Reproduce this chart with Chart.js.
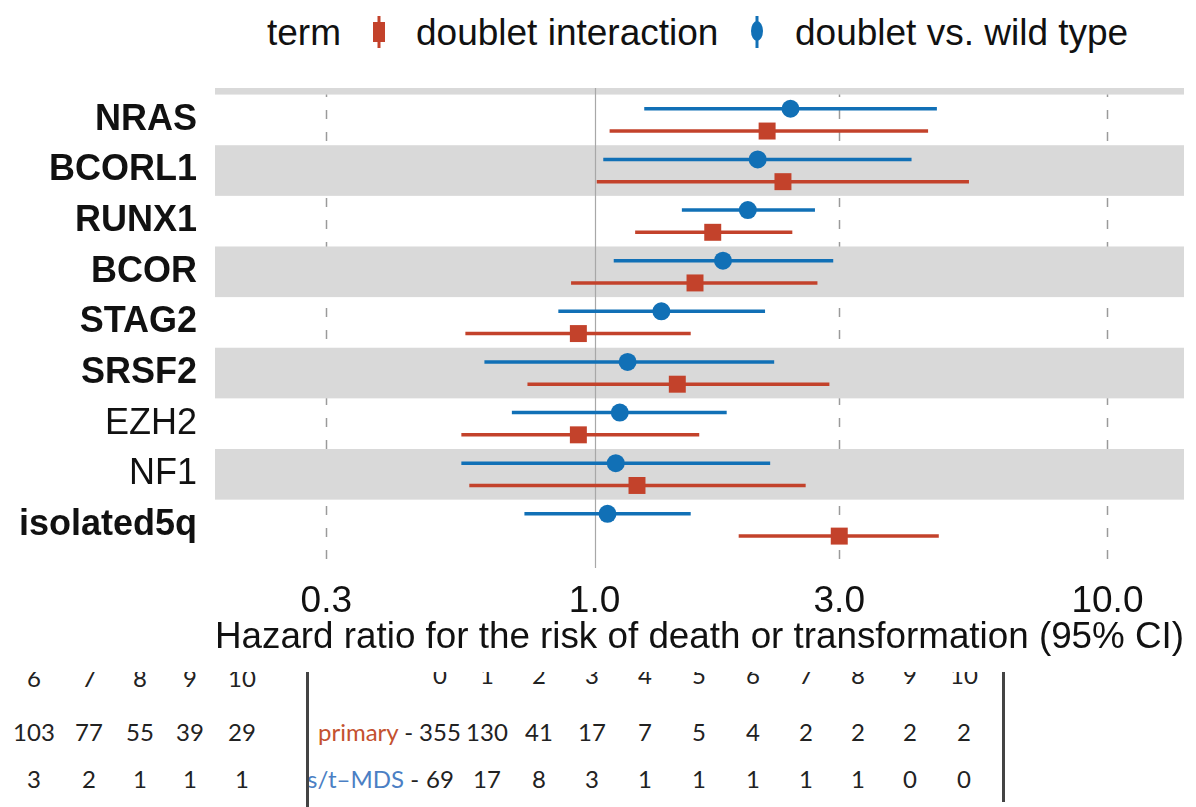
<!DOCTYPE html>
<html>
<head>
<meta charset="utf-8">
<script src="https://cdn.jsdelivr.net/npm/chart.js@4.4.1/dist/chart.umd.min.js"></script>
<style>
  body { margin: 0; background: #fff; width: 1196px; height: 807px; overflow: hidden; position: relative; font-family: "Liberation Sans", Arial, sans-serif; }
  #wrap { position: absolute; left: 0; top: 0; width: 1196px; height: 660px; }
  .leg { position: absolute; top: 11px; font-size: 37px; line-height: 44px; color: #111; white-space: nowrap; }
  .glyph { position: absolute; top: 14px; }
  .tbl { position: absolute; font-family: Lato, "Open Sans", sans-serif; font-size: 24px; color: #222; white-space: nowrap; }
  .cell { position: absolute; transform: translate(-50%, -50%); }
  .rlab { position: absolute; transform: translateY(-50%); text-align: right; }
  .clip { position: absolute; left: 0; top: 672px; width: 1196px; height: 30px; overflow: hidden; }
  .vline { position: absolute; width: 3px; background: #444; }
</style>
</head>
<body>
<div class="leg" style="left:267px">term</div>
<svg class="glyph" style="left:371px" width="16" height="36"><line x1="8" y1="2" x2="8" y2="34" stroke="#c3422b" stroke-width="3"/><rect x="2" y="8" width="12" height="20" fill="#c3422b"/></svg>
<div class="leg" style="left:416px">doublet interaction</div>
<svg class="glyph" style="left:749px" width="16" height="36"><line x1="8" y1="2" x2="8" y2="34" stroke="#1170b6" stroke-width="3"/><ellipse cx="8" cy="17" rx="6" ry="10" fill="#1170b6"/></svg>
<div class="leg" style="left:795px">doublet vs. wild type</div>

<div id="wrap"><canvas id="forest" width="1196" height="660"></canvas></div>

<div id="tables"></div>

<script>
// forest plot data (hazard ratios with 95% CI)
var genes = ['NRAS', 'BCORL1', 'RUNX1', 'BCOR', 'STAG2', 'SRSF2', 'EZH2', 'NF1', 'isolated5q'];
var plainGenes = ['EZH2', 'NF1'];

var vsWildHR = [2.41, 2.08, 1.99, 1.78, 1.35, 1.16, 1.12, 1.10, 1.06];
var vsWildLo = [1.25, 1.04, 1.48, 1.09, 0.85, 0.61, 0.69, 0.55, 0.73];
var vsWildHi = [4.65, 4.15, 2.69, 2.92, 2.15, 2.24, 1.81, 2.20, 1.54];

var interHR = [2.17, 2.33, 1.70, 1.57, 0.93, 1.45, 0.93, 1.21, 3.00];
var interLo = [1.07, 1.01, 1.20, 0.90, 0.56, 0.74, 0.55, 0.57, 1.91];
var interHi = [4.47, 5.37, 2.43, 2.72, 1.54, 2.87, 1.60, 2.58, 4.69];

var xTicks = [0.3, 1, 3, 10];

// risk table fragments underneath
var leftTimes = [6, 7, 8, 9, 10];
var leftRowA = [103, 77, 55, 39, 29];
var leftRowB = [3, 2, 1, 1, 1];
var riskTimes = [0, 1, 2, 3, 4, 5, 6, 7, 8, 9, 10];
var riskPrimary = [355, 130, 41, 17, 7, 5, 4, 2, 2, 2, 2];
var riskTMDS = [69, 17, 8, 3, 1, 1, 1, 1, 1, 0, 0];

var RED = '#c3422b';
var BLUE = '#1170b6';
var OFFSET = 0.22;

function rows(hr, lo, hi, shift) {
  return hr.map(function (v, i) { return { x: v, y: i + shift, lo: lo[i], hi: hi[i] }; });
}

var forestPlugin = {
  id: 'forest',
  beforeDatasetsDraw: function (chart) {
    var ctx = chart.ctx, a = chart.chartArea, x = chart.scales.x, y = chart.scales.y;
    ctx.save();
    ctx.beginPath();
    ctx.rect(a.left, a.top, a.right - a.left, a.bottom - a.top);
    ctx.clip();

    // dashed grid
    ctx.strokeStyle = '#9a9a9a';
    ctx.lineWidth = 1.5;
    ctx.setLineDash([9, 13]);
    xTicks.forEach(function (v) {
      if (v === 1) return;
      var px = Math.round(x.getPixelForValue(v)) + 0.5;
      ctx.beginPath(); ctx.moveTo(px, a.top); ctx.lineTo(px, a.bottom); ctx.stroke();
    });
    ctx.setLineDash([]);

    // shaded bands
    ctx.fillStyle = '#d9d9d9';
    for (var i = -1; i < genes.length - 1; i += 2) {
      var t = y.getPixelForValue(i - 0.5), b = y.getPixelForValue(i + 0.5);
      ctx.fillRect(a.left, Math.min(t, b), a.right - a.left, Math.abs(b - t));
    }

    // reference line at 1
    var p1 = Math.round(x.getPixelForValue(1)) + 0.5;
    ctx.strokeStyle = '#a8a8a8';
    ctx.lineWidth = 1.2;
    ctx.beginPath(); ctx.moveTo(p1, a.top); ctx.lineTo(p1, a.bottom); ctx.stroke();

    // CI whiskers
    ctx.lineWidth = 3.5;
    chart.data.datasets.forEach(function (ds) {
      ctx.strokeStyle = ds.borderColor;
      ds.data.forEach(function (p) {
        var py = y.getPixelForValue(p.y);
        ctx.beginPath();
        ctx.moveTo(x.getPixelForValue(p.lo), py);
        ctx.lineTo(x.getPixelForValue(p.hi), py);
        ctx.stroke();
      });
    });
    ctx.restore();
  }
};

new Chart(document.getElementById('forest'), {
  type: 'scatter',
  data: {
    datasets: [
      {
        label: 'doublet vs. wild type',
        data: rows(vsWildHR, vsWildLo, vsWildHi, -OFFSET),
        backgroundColor: BLUE, borderColor: BLUE,
        pointStyle: 'circle', pointRadius: 9, borderWidth: 0
      },
      {
        label: 'doublet interaction',
        data: rows(interHR, interLo, interHi, OFFSET),
        backgroundColor: RED, borderColor: RED,
        pointStyle: 'rect', pointRadius: 12, borderWidth: 0
      }
    ]
  },
  options: {
    responsive: false,
    animation: false,
    layout: { padding: { top: 88, right: 10, bottom: 0, left: 0 } },
    plugins: { legend: { display: false }, tooltip: { enabled: false } },
    scales: {
      x: {
        type: 'logarithmic',
        min: 0.182,
        max: 14.1,
        afterBuildTicks: function (scale) { scale.ticks = xTicks.map(function (v) { return { value: v }; }); },
        afterFit: function (scale) { scale.height = 92; },
        ticks: {
          color: '#111',
          padding: 12,
          maxRotation: 0,
          autoSkip: false,
          font: { family: 'Liberation Sans', size: 37 },
          callback: function (v) { return Number(v).toFixed(1); }
        },
        grid: { display: false, drawTicks: false },
        border: { display: false },
        title: {
          display: true,
          text: 'Hazard ratio for the risk of death or transformation (95% CI)',
          color: '#111',
          font: { family: 'Liberation Sans', size: 37.8 },
          padding: { top: 0, bottom: 0 }
        }
      },
      y: {
        type: 'linear',
        reverse: true,
        min: -0.63,
        max: 8.85,
        afterBuildTicks: function (scale) { scale.ticks = genes.map(function (g, i) { return { value: i }; }); },
        afterFit: function (scale) { scale.width = 215; },
        ticks: {
          color: '#111',
          padding: 18,
          autoSkip: false,
          font: function (c) {
            var g = genes[c.tick ? c.tick.value : 0];
            return { family: 'Liberation Sans', size: 36, weight: plainGenes.indexOf(g) >= 0 ? 'normal' : 'bold' };
          },
          callback: function (v) { return genes[v]; }
        },
        grid: { display: false, drawTicks: false },
        border: { display: false }
      }
    }
  },
  plugins: [forestPlugin]
});

// bottom risk tables
var tables = document.getElementById('tables');
function cell(parent, text, cx, cy, color) {
  var s = document.createElement('span');
  s.className = 'cell';
  s.textContent = text;
  s.style.left = cx + 'px';
  s.style.top = cy + 'px';
  if (color) s.style.color = color;
  parent.appendChild(s);
}
var leftX = [34, 89, 140, 190, 242];
var rightX = [440, 487, 539, 592, 645, 699, 753, 806, 858, 910, 964];

var clip = document.createElement('div');
clip.className = 'clip tbl';
tables.appendChild(clip);
leftTimes.forEach(function (t, i) { cell(clip, t, leftX[i], 5); });
riskTimes.forEach(function (t, i) { cell(clip, t, rightX[i], 2); });

var body = document.createElement('div');
body.className = 'tbl';
body.style.left = '0px'; body.style.top = '0px';
tables.appendChild(body);
leftRowA.forEach(function (v, i) { cell(body, v, leftX[i], 731); });
leftRowB.forEach(function (v, i) { cell(body, v, leftX[i], 778); });
riskPrimary.forEach(function (v, i) { cell(body, v, rightX[i], 731); });
riskTMDS.forEach(function (v, i) { cell(body, v, rightX[i], 778); });

var lab1 = document.createElement('span');
lab1.className = 'rlab';
lab1.innerHTML = '<span style="color:#c4512f">primary</span>&nbsp;-';
lab1.style.left = '318px'; lab1.style.top = '731px';
body.appendChild(lab1);
var lab2 = document.createElement('span');
lab2.className = 'rlab';
lab2.innerHTML = '<span style="color:#4b7fc4">s/t\u2013MDS</span>&nbsp;-';
lab2.style.left = '307px'; lab2.style.top = '778px';
body.appendChild(lab2);

[[306, 672, 135], [1002, 672, 130]].forEach(function (l) {
  var d = document.createElement('div');
  d.className = 'vline';
  d.style.left = l[0] + 'px'; d.style.top = l[1] + 'px'; d.style.height = l[2] + 'px';
  tables.appendChild(d);
});
</script>
</body>
</html>
